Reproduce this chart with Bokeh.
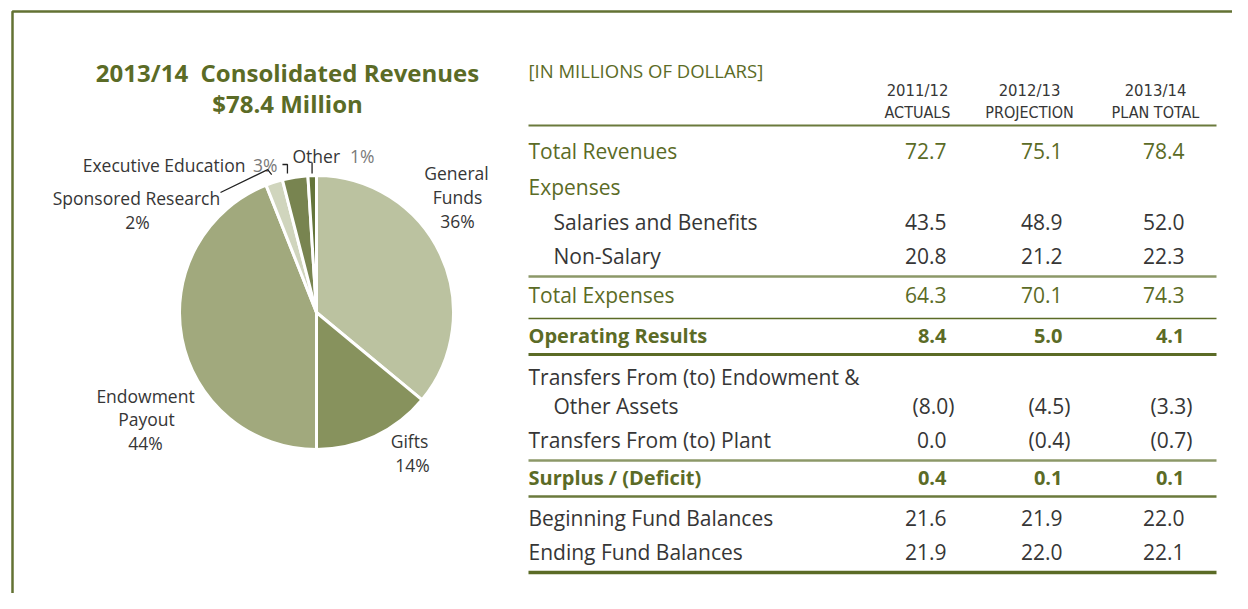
import math
from bokeh.plotting import figure
from bokeh.models import Range1d, ColumnDataSource
from bokeh.core.properties import value
from bokeh.embed import file_html
from bokeh.resources import INLINE

# ---------------- data ----------------
pie_categories = ["General Funds", "Gifts", "Endowment Payout", "Sponsored Research",
                  "Executive Education", "Other"]
pie_shares = [36, 14, 44, 2, 3, 1]
pie_colors = ["#bbc2a0", "#87925d", "#a1a97d", "#d0d5bd", "#788450", "#64753a"]

col_years = ["2011/12", "2012/13", "2013/14"]
col_kinds = ["ACTUALS", "PROJECTION", "PLAN TOTAL"]

row_labels = ["Total Revenues", "Expenses", "Salaries and Benefits", "Non-Salary",
              "Total Expenses", "Operating Results", "Other Assets",
              "Transfers From (to) Plant", "Surplus / (Deficit)",
              "Beginning Fund Balances", "Ending Fund Balances"]
actuals_2011_12 = [72.7, None, 43.5, 20.8, 64.3, 8.4, -8.0, 0.0, 0.4, 21.6, 21.9]
projection_2012_13 = [75.1, None, 48.9, 21.2, 70.1, 5.0, -4.5, -0.4, 0.1, 21.9, 22.0]
plan_2013_14 = [78.4, None, 52.0, 22.3, 74.3, 4.1, -3.3, -0.7, 0.1, 22.0, 22.1]

# ---------------- styles ----------------
OLIVE = "#5b6b26"
DARK = "#363636"
GRAY = "#7a7a7a"
FONT = "Open Sans"
NARROW = "DejaVu Sans Condensed"

W, H = 1232, 593
p = figure(width=W, height=H, output_backend="svg", toolbar_location=None,
           x_range=Range1d(0, W), y_range=Range1d(-H, 0),
           min_border=0)
p.axis.visible = False
p.grid.visible = False
p.outline_line_color = None
p.background_fill_color = "white"
p.border_fill_color = "white"


def Y(v):
    return -v


def txt(x, y, s, size, color=DARK, align="left", bold=False, font=FONT):
    p.text(x=[x], y=[Y(y)], text=[s], text_font=value(font),
           text_font_size=f"{size}px", text_color=color, text_align=align,
           text_baseline="middle", text_font_style="bold" if bold else "normal")


# border
p.line(x=[12, 12, W], y=[Y(H), Y(11), Y(11)], line_color="#637233", line_width=2.5)

# ---------------- title ----------------
txt(287, 72, "2013/14\u00a0 Consolidated Revenues", 24, OLIVE, "center", True)
txt(287, 103, "$78.4 Million", 24, OLIVE, "center", True)

# ---------------- pie ----------------
cx, cy, r = 316, 312, 137
total = float(sum(pie_shares))
starts, ends, mids = [], [], []
cum = 0.0
for s in pie_shares:
    a0 = math.pi / 2 - 2 * math.pi * cum / total
    cum += s
    a1 = math.pi / 2 - 2 * math.pi * cum / total
    starts.append(a0)
    ends.append(a1)
    mids.append((a0 + a1) / 2)
src = ColumnDataSource(dict(x=[cx] * len(pie_shares), y=[Y(cy)] * len(pie_shares),
                            start=starts, end=ends, color=pie_colors,
                            cat=pie_categories))
p.wedge(x="x", y="y", radius=r, start_angle="start", end_angle="end",
        direction="clock", fill_color="color", line_color="white", line_width=3,
        source=src)

# pie labels
PL = 17.5
txt(456, 172, "General", PL, DARK, "center")
txt(457, 196, "Funds", PL, DARK, "center")
txt(457, 220, f"{pie_shares[0]}%", PL, DARK, "center")
txt(409, 440, "Gifts", PL, DARK, "center")
txt(412, 464, f"{pie_shares[1]}%", PL, DARK, "center")
txt(145, 395, "Endowment", PL, DARK, "center")
txt(146, 418, "Payout", PL, DARK, "center")
txt(145, 442, f"{pie_shares[2]}%", PL, DARK, "center")
txt(136, 197, "Sponsored Research", PL, DARK, "center")
txt(137, 221, f"{pie_shares[3]}%", PL, DARK, "center")
txt(245, 164, "Executive Education", PL, DARK, "right")
txt(277, 164, f"{pie_shares[4]}%", PL, GRAY, "right")
txt(292, 155, "Other", PL, DARK, "left")
txt(374, 155, f"{pie_shares[5]}%", PL, GRAY, "right")

# leader lines, anchored to slice mid angles
def edge(angle, rr):
    return cx + rr * math.cos(angle), cy - rr * math.sin(angle)

sx, sy = edge(mids[3], r + 8)
p.line(x=[220, sx - 4, sx], y=[Y(192), Y(sy - 5), Y(sy)], line_color="#222222", line_width=1.3)
ex, ey = edge(mids[4], r + 4)
bx = ex - 7
p.line(x=[bx - 5, bx, bx], y=[Y(164), Y(164), Y(173)], line_color="#222222", line_width=1.3)
ox, oy = edge(mids[5], r + 4)
p.line(x=[ox, ox], y=[Y(162), Y(173)], line_color="#222222", line_width=1.3)

# ---------------- table ----------------
LX, IX = 528, 553
col_right = [946, 1062, 1184]
col_center = [917, 1029, 1155]
txt(LX, 70, "[IN MILLIONS OF DOLLARS]", 18.5, OLIVE, "left")
for i in range(3):
    txt(col_center[i], 90, col_years[i], 16.5, DARK, "center", font=NARROW)
    txt(col_center[i], 112, col_kinds[i], 16, DARK, "center", font=NARROW)

row_y = [150, 186, 221, 255, 294, 335, 405, 439, 477, 517, 551]
row_color = [OLIVE, OLIVE, DARK, DARK, OLIVE, OLIVE, DARK, DARK, OLIVE, DARK, DARK]
row_bold = [False, False, False, False, False, True, False, False, True, False, False]
row_indent = [False, False, True, True, False, False, True, False, False, False, False]

TS = 21
BS = 20
txt(LX, 376, "Transfers From (to) Endowment &", TS, DARK, "left")


def fmt(v):
    if v is None:
        return None
    if v < 0:
        return f"({abs(v):.1f})"
    return f"{v:.1f}"


series = [actuals_2011_12, projection_2012_13, plan_2013_14]
for k, lab in enumerate(row_labels):
    size = BS if row_bold[k] else TS
    txt(IX if row_indent[k] else LX, row_y[k], lab, size, row_color[k], "left", row_bold[k])
    for c in range(3):
        v = series[c][k]
        s = fmt(v)
        if s is None:
            continue
        xr = col_right[c] + (8 if v < 0 else 0)
        txt(xr, row_y[k], s, size, row_color[k], "right", row_bold[k])

rules = [(125, "#6b7a3c", 2), (276, "#8c9868", 2.5), (318, "#5b6b26", 1.5),
         (354, "#5b6b26", 3), (460, "#8c9868", 2.5), (496, "#6b7a3c", 2.5),
         (572, "#5b6b26", 3.5)]
for yy, colr, lw in rules:
    p.line(x=[LX, 1216], y=[Y(yy), Y(yy)], line_color=colr, line_width=lw)

open("out.html", "w").write(file_html(p, INLINE))
